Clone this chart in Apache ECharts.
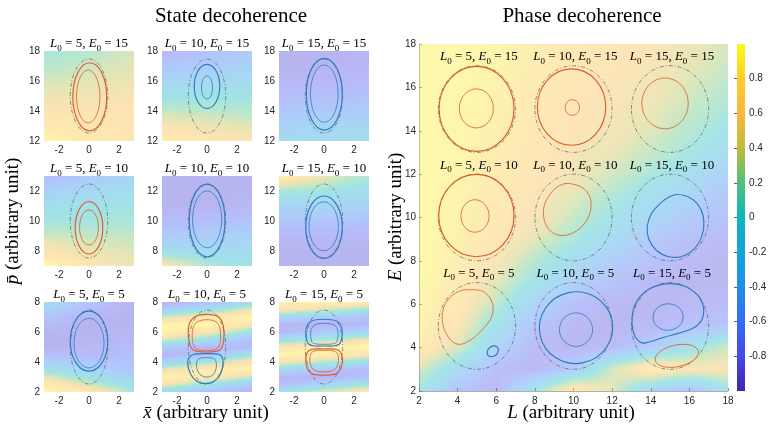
<!DOCTYPE html>
<html>
<head>
<meta charset="utf-8">
<script src="https://cdn.jsdelivr.net/npm/echarts@6/dist/echarts.min.js"></script>
<style>
  html, body { margin: 0; padding: 0; background: #fff; }
  #chart { width: 772px; height: 428px; }
</style>
</head>
<body>
<div id="chart"></div>
<script>
// ---------- State decoherence: 3x3 small panels ----------
var stateL0 = [5, 10, 15];
var stateE0 = [15, 10, 5];
var stateXTicks = [-2, 0, 2];
var stateYTicks = [[12, 14, 16, 18], [8, 10, 12], [2, 4, 6, 8]];
var stateGuide = [1.25, 2.47];   // half axes of the dash-dot ellipse (x, p)

// background field of each panel, rows from top (E0+3) to bottom (E0-3), columns x = -3, 0, 3
var stateField = [
  [[0.05, 0.18, 0.32], [0.18, 0.28, 0.38], [0.32, 0.38, 0.46], [0.46, 0.50, 0.55],
   [0.60, 0.60, 0.62], [0.75, 0.68, 0.66], [0.95, 0.76, 0.70]],
  [[-0.80, -0.68, -0.55], [-0.60, -0.48, -0.38], [-0.35, -0.28, -0.22], [-0.05, -0.05, 0.00],
   [0.25, 0.20, 0.15], [0.55, 0.45, 0.38], [0.80, 0.68, 0.58]],
  [[-0.86, -0.86, -0.82], [-0.86, -0.86, -0.82], [-0.82, -0.80, -0.76], [-0.72, -0.70, -0.66],
   [-0.56, -0.55, -0.50], [-0.40, -0.36, -0.34], [-0.22, -0.20, -0.15]],
  [[-0.75, -0.55, -0.35], [-0.45, -0.30, -0.15], [-0.15, -0.05, 0.00], [0.05, 0.05, 0.10],
   [0.30, 0.25, 0.25], [0.60, 0.45, 0.35], [0.95, 0.65, 0.45]],
  [[-0.86, -0.86, -0.86], [-0.86, -0.86, -0.85], [-0.85, -0.84, -0.80], [-0.75, -0.70, -0.65],
   [-0.55, -0.50, -0.40], [-0.15, -0.25, -0.20], [0.65, 0.15, -0.05]],
  [[0.85, 0.45, 0.10], [0.10, 0.00, -0.15], [-0.35, -0.35, -0.40], [-0.60, -0.60, -0.65],
   [-0.80, -0.80, -0.80], [-0.86, -0.86, -0.86], [-0.86, -0.86, -0.86]],
  [[-0.20, -0.60, -0.85], [-0.40, -0.75, -0.85], [-0.60, -0.85, -0.85], [-0.75, -0.85, -0.85],
   [-0.85, -0.85, -0.80], [-0.85, -0.85, -0.80], [-0.85, -0.80, -0.75], [-0.70, -0.75, -0.70],
   [-0.40, -0.60, -0.65], [-0.10, -0.40, -0.60], [0.40, -0.10, -0.45], [0.80, 0.30, -0.20],
   [0.95, 0.70, 0.10]],
  [[-0.85, -0.70, -0.30], [-0.45, -0.10, 0.50], [0.35, 0.65, 0.95], [0.90, 0.95, 0.60],
   [0.90, 0.60, -0.10], [0.35, -0.10, -0.75], [-0.45, -0.85, -0.75], [-0.85, -0.65, -0.10],
   [-0.45, 0.00, 0.70], [0.35, 0.85, 0.90], [0.90, 0.80, 0.30], [0.60, 0.00, -0.55],
   [-0.20, -0.70, -0.85]],
  [[0.85, 0.90, 0.70], [0.60, 0.30, 0.00], [-0.30, -0.50, -0.70], [-0.80, -0.85, -0.80],
   [-0.80, -0.55, -0.25], [-0.20, 0.10, 0.50], [0.60, 0.85, 0.95], [0.95, 0.85, 0.60],
   [0.60, 0.20, -0.15], [-0.20, -0.55, -0.80], [-0.80, -0.85, -0.70], [-0.75, -0.40, 0.00],
   [-0.10, 0.35, 0.70]]
];

// elliptic contours: [panel, x, p, rx, rp, tiltDeg, sign, level]
var stateContours = [
  [0, 0.05, 14.95, 1.13, 2.27, 0, 1, 1], [0, -0.05, 14.97, 0.78, 1.76, 0, 1, 2],
  [1, 0.00, 15.64, 0.85, 1.47, 0, -1, 1], [1, 0.00, 15.57, 0.37, 0.77, 0, -1, 2],
  [2, 0.02, 15.12, 1.20, 2.39, 0, -1, 1], [2, 0.02, 15.16, 0.92, 1.91, 0, -1, 2],
  [3, 0.00, 9.55, 0.92, 1.75, 0, 1, 1], [3, 0.00, 9.57, 0.63, 1.17, 0, 1, 2],
  [4, 0.01, 10.04, 1.19, 2.42, 0, -1, 1], [4, 0.01, 10.11, 0.97, 1.89, 0, -1, 2],
  [5, 0.00, 9.59, 1.22, 2.08, 0, -1, 1], [5, -0.02, 9.65, 0.98, 1.63, 0, -1, 2],
  [6, 0.00, 5.39, 1.25, 2.00, 0, -1, 1], [6, 0.00, 5.26, 1.00, 1.65, 0, -1, 2]
];
// lobe-shaped contours of the E0 = 5 panels, read point by point
var stateLoops = [
  {panel: 7, sign: 1, level: 1, pts: [[0, 7.18], [0.75, 7.02], [1.08, 6.45], [1.11, 5.40], [0.85, 4.80],
    [0, 4.67], [-0.90, 4.80], [-1.20, 5.40], [-1.20, 6.45], [-0.80, 7.02]]},
  {panel: 7, sign: 1, level: 2, pts: [[0, 6.82], [0.60, 6.68], [0.87, 6.20], [0.88, 5.30], [0.60, 4.85],
    [0, 4.78], [-0.65, 4.85], [-0.95, 5.30], [-0.95, 6.20], [-0.65, 6.68]]},
  {panel: 7, sign: -1, level: 1, pts: [[0, 4.56], [0.80, 4.50], [1.07, 4.10], [0.90, 3.20], [0.45, 2.70],
    [-0.10, 2.56], [-0.65, 2.70], [-1.10, 3.20], [-1.27, 4.10], [-0.90, 4.50]]},
  {panel: 7, sign: -1, level: 2, pts: [[0, 4.29], [0.50, 4.20], [0.63, 3.75], [0.45, 3.20], [0, 2.99],
    [-0.50, 3.20], [-0.71, 3.75], [-0.55, 4.20]]},
  {panel: 8, sign: -1, level: 1, pts: [[0, 6.85], [0.85, 6.72], [1.20, 6.20], [1.10, 5.30], [0.70, 5.08],
    [0, 5.07], [-0.70, 5.08], [-1.10, 5.30], [-1.20, 6.20], [-0.85, 6.72]]},
  {panel: 8, sign: -1, level: 2, pts: [[0, 6.58], [0.65, 6.48], [0.93, 6.05], [0.85, 5.35], [0.50, 5.20],
    [0, 5.18], [-0.50, 5.20], [-0.82, 5.35], [-0.88, 6.05], [-0.60, 6.48]]},
  {panel: 8, sign: 1, level: 1, pts: [[0, 4.87], [0.70, 4.86], [1.10, 4.65], [1.22, 3.90], [0.85, 3.25],
    [0, 3.12], [-0.85, 3.25], [-1.20, 3.90], [-1.10, 4.65], [-0.70, 4.86]]},
  {panel: 8, sign: 1, level: 2, pts: [[0, 4.78], [0.55, 4.76], [0.90, 4.55], [0.95, 3.95], [0.65, 3.45],
    [0, 3.35], [-0.65, 3.45], [-0.93, 3.95], [-0.88, 4.55], [-0.55, 4.76]]}
];

// ---------- Phase decoherence: one large panel ----------
var phaseTicks = [2, 4, 6, 8, 10, 12, 14, 16, 18];
// field rows E = 18 .. 2 (step 1), columns L = 2 .. 18 (step 2)
var phaseField = [
  [0.95, 0.94, 0.90, 0.82, 0.72, 0.66, 0.60, 0.47, 0.34],
  [0.95, 0.94, 0.89, 0.79, 0.69, 0.63, 0.55, 0.41, 0.26],
  [0.95, 0.93, 0.87, 0.76, 0.66, 0.59, 0.50, 0.33, 0.18],
  [0.95, 0.93, 0.85, 0.73, 0.63, 0.55, 0.44, 0.25, 0.08],
  [0.95, 0.92, 0.83, 0.70, 0.60, 0.50, 0.36, 0.15, -0.05],
  [0.95, 0.92, 0.81, 0.67, 0.56, 0.42, 0.25, 0.05, -0.20],
  [0.95, 0.91, 0.78, 0.64, 0.50, 0.30, 0.08, -0.20, -0.45],
  [0.95, 0.90, 0.75, 0.60, 0.40, 0.12, -0.15, -0.40, -0.60],
  [0.95, 0.88, 0.72, 0.55, 0.25, -0.05, -0.35, -0.55, -0.68],
  [0.95, 0.86, 0.66, 0.40, 0.08, -0.28, -0.55, -0.72, -0.80],
  [0.95, 0.83, 0.58, 0.15, -0.22, -0.50, -0.68, -0.80, -0.86],
  [0.94, 0.78, 0.40, -0.05, -0.45, -0.68, -0.82, -0.86, -0.85],
  [0.93, 0.72, 0.20, -0.40, -0.70, -0.85, -0.86, -0.82, -0.78],
  [0.90, 0.60, -0.10, -0.68, -0.85, -0.86, -0.82, -0.72, -0.62],
  [0.80, 0.35, -0.40, -0.78, -0.86, -0.80, -0.55, -0.10, 0.30],
  [0.35, -0.25, -0.75, -0.86, -0.55, 0.30, 0.85, 0.60, 0.55],
  [0.00, -0.70, -0.86, 0.00, 0.80, 0.40, -0.40, -0.70, -0.10]
];
var phaseL0 = [5, 10, 15, 5, 10, 15, 5, 10, 15];
var phaseE0 = [15, 15, 15, 10, 10, 10, 5, 5, 5];
var phaseGuideR = 2;
// elliptic contours: [L, E, rL, rE, tiltDeg, sign, level]
var phaseEllipses = [
  [4.98, 15.01, 1.94, 1.96, 0, 1, 1], [4.97, 15.03, 0.88, 0.90, 0, 1, 2],
  [9.90, 15.09, 1.77, 1.76, 0, 1, 1], [9.94, 15.07, 0.37, 0.36, 0, 1, 2],
  [14.74, 15.26, 1.20, 1.17, 0, 1, 2],
  [4.97, 10.09, 1.95, 1.90, 0, 1, 1], [4.90, 10.07, 0.73, 0.75, 0, 1, 2],
  [5.82, 3.83, 0.32, 0.22, 40, -1, 1],
  [10.13, 4.92, 1.90, 1.65, 12, -1, 1], [10.13, 4.83, 0.86, 0.77, 0, -1, 2],
  [14.90, 5.41, 0.78, 0.61, 5, -1, 2],
  [15.35, 3.62, 1.14, 0.50, 12, 1, 2]
];
// irregular contours read point by point
var phaseLoops = [
  {sign: 1, level: 2, pts: [[9.83, 11.56], [10.45, 11.38], [10.85, 10.95], [10.88, 10.30], [10.55, 9.70],
    [10.00, 9.30], [9.35, 9.17], [8.80, 9.38], [8.48, 9.90], [8.50, 10.60], [8.95, 11.25], [9.40, 11.52]]},
  {sign: -1, level: 1, pts: [[15.37, 11.06], [16.05, 10.90], [16.55, 10.45], [16.75, 9.83], [16.65, 9.15],
    [16.25, 8.55], [15.60, 8.20], [14.90, 8.20], [14.30, 8.48], [13.90, 9.00], [13.82, 9.60],
    [14.05, 10.20], [14.55, 10.70], [14.95, 10.95]]},
  {sign: 1, level: 2, pts: [[4.72, 6.67], [5.30, 6.60], [5.70, 6.25], [5.84, 5.80], [5.70, 5.30],
    [5.30, 4.85], [4.75, 4.40], [4.15, 4.15], [3.70, 4.30], [3.35, 4.75], [3.20, 5.30], [3.30, 5.90],
    [3.65, 6.35], [4.15, 6.62]]},
  {sign: -1, level: 1, pts: [[15.01, 6.95], [15.80, 6.82], [16.40, 6.45], [16.72, 5.90], [16.65, 5.30],
    [16.20, 4.90], [15.50, 4.68], [14.70, 4.48], [14.00, 4.28], [13.55, 4.22], [13.20, 4.50],
    [13.03, 5.10], [13.10, 5.75], [13.45, 6.35], [14.10, 6.78]]}
];
var colorTicks = [-0.8, -0.6, -0.4, -0.2, 0, 0.2, 0.4, 0.6, 0.8];

// parula-like colour map, value -1 .. 1
var cmapStops = [
  [-1.0, [62, 38, 168]], [-0.8, [70, 72, 235]], [-0.6, [52, 108, 246]], [-0.4, [32, 140, 232]],
  [-0.2, [18, 165, 214]], [0.0, [10, 183, 188]], [0.2, [80, 193, 120]], [0.4, [190, 188, 60]],
  [0.6, [250, 183, 60]], [0.8, [252, 205, 45]], [1.0, [249, 251, 20]]
];

function parula(v) {
  if (v <= cmapStops[0][0]) return cmapStops[0][1];
  for (var i = 1; i < cmapStops.length; i++) {
    if (v <= cmapStops[i][0]) {
      var a = cmapStops[i - 1], b = cmapStops[i], t = (v - a[0]) / (b[0] - a[0]);
      return [0, 1, 2].map(function (k) { return Math.round(a[1][k] + (b[1][k] - a[1][k]) * t); });
    }
  }
  return cmapStops[cmapStops.length - 1][1];
}

// raster of a sampled field (rows top->bottom), bilinear between samples
function fieldCanvas(rows, w, h) {
  var cv = document.createElement('canvas');
  cv.width = w; cv.height = h;
  var ctx = cv.getContext('2d');
  var img = ctx.createImageData(w, h);
  var nr = rows.length, nc = rows[0].length;
  for (var py = 0; py < h; py++) {
    var fy = py / (h - 1) * (nr - 1), r0 = Math.min(Math.floor(fy), nr - 2), ty = fy - r0;
    for (var px = 0; px < w; px++) {
      var fx = px / (w - 1) * (nc - 1), c0 = Math.min(Math.floor(fx), nc - 2), tx = fx - c0;
      var top = rows[r0][c0] * (1 - tx) + rows[r0][c0 + 1] * tx;
      var bot = rows[r0 + 1][c0] * (1 - tx) + rows[r0 + 1][c0 + 1] * tx;
      var col = parula(top * (1 - ty) + bot * ty);
      var k = (py * w + px) * 4;
      img.data[k] = col[0]; img.data[k + 1] = col[1]; img.data[k + 2] = col[2]; img.data[k + 3] = 255;
    }
  }
  ctx.putImageData(img, 0, 0);
  return cv;
}

function contourStyle(sign, level) {
  if (sign === 0) return {fill: 'none', stroke: '#555', lineWidth: 0.65, lineDash: [4, 2, 1, 2]};
  return {
    fill: 'none',
    stroke: sign > 0 ? '#db5b2b' : '#2b7bc0',
    lineWidth: level === 1 ? 1.15 : 0.8
  };
}

var serif = 'Liberation Serif';
var sans = 'Liberation Sans';
var labelRich = {
  i: {fontFamily: serif, fontStyle: 'italic', fontSize: 13, lineHeight: 18, verticalAlign: 'middle', fill: '#000', color: '#000'},
  n: {fontFamily: serif, fontSize: 13, lineHeight: 18, verticalAlign: 'middle', fill: '#000', color: '#000'},
  s: {fontFamily: serif, fontSize: 9, lineHeight: 9, verticalAlign: 'bottom', fill: '#000', color: '#000'}
};
function panelLabel(L0, E0) {
  return '{i|L}{s|0}{n| = ' + L0 + ', }{i|E}{s|0}{n| = ' + E0 + '}';
}

function ellipseItem(api, style) {
  var c = api.coord([api.value(0), api.value(1)]);
  var s = api.size([api.value(2) * 2, api.value(3) * 2]);
  return {
    type: 'ellipse', x: c[0], y: c[1], rotation: api.value(4) * Math.PI / 180,
    shape: {cx: 0, cy: 0, rx: s[0] / 2, ry: s[1] / 2},
    style: style
  };
}

// closed smooth curve through the mapped points (Catmull-Rom drawn as cubic segments)
function smoothLoop(pts, style) {
  var n = pts.length, segs = [];
  for (var i = 0; i < n; i++) {
    var p0 = pts[(i - 1 + n) % n], p1 = pts[i], p2 = pts[(i + 1) % n], p3 = pts[(i + 2) % n];
    segs.push({
      type: 'bezierCurve',
      shape: {
        x1: p1[0], y1: p1[1], x2: p2[0], y2: p2[1],
        cpx1: p1[0] + (p2[0] - p0[0]) / 6, cpy1: p1[1] + (p2[1] - p0[1]) / 6,
        cpx2: p2[0] - (p3[0] - p1[0]) / 6, cpy2: p2[1] - (p3[1] - p1[1]) / 6
      },
      style: style
    });
  }
  return {type: 'group', children: segs};
}

function loopSeries(axisIndex, loops) {
  return {
    type: 'custom', xAxisIndex: axisIndex, yAxisIndex: axisIndex, silent: true, z: 3,
    data: loops.map(function (l) { return l.pts[0]; }),
    renderItem: function (params, api) {
      var loop = loops[params.dataIndex];
      var pts = loop.pts.map(function (p) { return api.coord(p); });
      return smoothLoop(pts, contourStyle(loop.sign, loop.level));
    }
  };
}

var chart = echarts.init(document.getElementById('chart'));

var smallLeft = [44, 162, 279], smallTop = [51, 176, 302], smallSize = 90;
var grids = [], xAxes = [], yAxes = [], series = [], graphics = [];
var tickLabel = {fontSize: 10, color: '#262626', fontFamily: sans};

for (var r = 0; r < 3; r++) {
  for (var c = 0; c < 3; c++) {
    (function (r, c) {
      var g = r * 3 + c;
      var yMin = stateE0[r] - 3, yMax = stateE0[r] + 3;
      grids.push({left: smallLeft[c], top: smallTop[r], width: smallSize, height: smallSize, outerBoundsMode: 'none'});
      xAxes.push({
        gridIndex: g, type: 'value', min: -3, max: 3,
        axisLine: {show: false}, axisTick: {show: false}, splitLine: {show: false},
        axisLabel: Object.assign({customValues: stateXTicks, margin: 4}, tickLabel)
      });
      yAxes.push({
        gridIndex: g, type: 'value', min: yMin, max: yMax,
        axisLine: {show: false}, axisTick: {show: false}, splitLine: {show: false},
        axisLabel: Object.assign({customValues: stateYTicks[r], margin: 4}, tickLabel)
      });
      var cv = fieldCanvas(stateField[g], smallSize, smallSize);
      series.push({
        type: 'custom', xAxisIndex: g, yAxisIndex: g, silent: true, z: 1,
        data: [[-3, yMin]],
        renderItem: function (params, api) {
          var p0 = api.coord([-3, yMax]), p1 = api.coord([3, yMin]);
          return {type: 'image', style: {image: cv, x: p0[0], y: p0[1], width: p1[0] - p0[0], height: p1[1] - p0[1], opacity: 0.38}};
        }
      });
      var items = [[0, stateE0[r], stateGuide[0], stateGuide[1], 0, 0, 0]];
      stateContours.forEach(function (d) {
        if (d[0] === g) items.push(d.slice(1));
      });
      series.push({
        type: 'custom', xAxisIndex: g, yAxisIndex: g, silent: true, z: 3,
        data: items,
        renderItem: function (params, api) {
          return ellipseItem(api, contourStyle(api.value(5), api.value(6)));
        }
      });
      var loops = stateLoops.filter(function (l) { return l.panel === g; });
      if (loops.length) series.push(loopSeries(g, loops));
      graphics.push({
        type: 'text', x: smallLeft[c] + smallSize / 2, y: smallTop[r] - 7,
        style: {text: panelLabel(stateL0[c], stateE0[r]), rich: labelRich, align: 'center', verticalAlign: 'middle'}
      });
    })(r, c);
  }
}

// large phase panel (grid 9)
var bigGrid = {left: 419, top: 44, width: 309, height: 347};
grids.push(Object.assign({outerBoundsMode: 'none'}, bigGrid));
var bigAxis = {
  type: 'value', min: 2, max: 18, interval: 2,
  axisLine: {show: true, lineStyle: {color: '#9a9a9a', width: 0.8}},
  axisTick: {show: true, inside: true, length: 3, lineStyle: {color: '#777', width: 0.8}},
  splitLine: {show: false}
};
xAxes.push(Object.assign({gridIndex: 9, axisLabel: Object.assign({customValues: phaseTicks, margin: 5}, tickLabel)}, bigAxis));
yAxes.push(Object.assign({gridIndex: 9, axisLabel: Object.assign({customValues: phaseTicks, margin: 3}, tickLabel)}, bigAxis));
var bigCanvas = fieldCanvas(phaseField, bigGrid.width, bigGrid.height);
series.push({
  type: 'custom', xAxisIndex: 9, yAxisIndex: 9, silent: true, z: 1,
  data: [[2, 2]],
  renderItem: function (params, api) {
    var p0 = api.coord([2, 18]), p1 = api.coord([18, 2]);
    return {type: 'image', style: {image: bigCanvas, x: p0[0], y: p0[1], width: p1[0] - p0[0], height: p1[1] - p0[1], opacity: 0.36}};
  }
});
var guideItems = phaseL0.map(function (L, i) { return [L, phaseE0[i], phaseGuideR, phaseGuideR, 0, 0, 0]; });
series.push({
  type: 'custom', xAxisIndex: 9, yAxisIndex: 9, silent: true, z: 3,
  data: guideItems.concat(phaseEllipses),
  renderItem: function (params, api) {
    return ellipseItem(api, contourStyle(api.value(5), api.value(6)));
  }
});
series.push(loopSeries(9, phaseLoops));
series.push({
  type: 'custom', xAxisIndex: 9, yAxisIndex: 9, silent: true, z: 4,
  data: phaseL0.map(function (L, i) { return [L, phaseE0[i]]; }),
  renderItem: function (params, api) {
    var p = api.coord([api.value(0) + 0.1, api.value(1) + phaseGuideR]);
    return {
      type: 'text', x: p[0], y: p[1] - 9,
      style: {text: panelLabel(api.value(0), api.value(1)), rich: labelRich, align: 'center', verticalAlign: 'middle'}
    };
  }
});

// colour bar (grid 10)
grids.push({left: 737, top: 44, width: 8, height: 347, outerBoundsMode: 'none'});
xAxes.push({gridIndex: 10, type: 'value', min: 0, max: 1, show: false});
yAxes.push({
  gridIndex: 10, type: 'value', min: -1, max: 1, position: 'right',
  axisLine: {show: false}, splitLine: {show: false},
  axisTick: {show: true, inside: true, length: 3, customValues: colorTicks, lineStyle: {color: '#333', width: 0.8}},
  axisLabel: Object.assign({customValues: colorTicks, margin: 4, formatter: function (v) { return String(Math.round(v * 10) / 10); }}, tickLabel)
});
series.push({
  type: 'custom', xAxisIndex: 10, yAxisIndex: 10, silent: true, z: 1,
  data: [[0, -1]],
  renderItem: function (params, api) {
    var p0 = api.coord([0, 1]), p1 = api.coord([1, -1]);
    var stops = cmapStops.map(function (s) {
      return {offset: (s[0] + 1) / 2, color: 'rgb(' + s[1].join(',') + ')'};
    });
    return {
      type: 'rect', shape: {x: p0[0], y: p0[1], width: p1[0] - p0[0], height: p1[1] - p0[1]},
      style: {fill: new echarts.graphic.LinearGradient(0, 1, 0, 0, stops)}
    };
  }
});

// titles and axis names
var bigText = {fontFamily: serif, fontSize: 21, fill: '#000'};
graphics.push({type: 'text', x: 231, y: 16, style: Object.assign({text: 'State decoherence', align: 'center', verticalAlign: 'middle'}, bigText)});
graphics.push({type: 'text', x: 582, y: 16, style: Object.assign({text: 'Phase decoherence', align: 'center', verticalAlign: 'middle'}, bigText)});
var nameRich = {
  i: {fontFamily: serif, fontStyle: 'italic', fontSize: 19, fill: '#000', color: '#000'},
  n: {fontFamily: serif, fontSize: 19, fill: '#000', color: '#000'}
};
graphics.push({type: 'text', x: 206, y: 413, style: {text: '{i|x\u0304}{n| (arbitrary unit)}', rich: nameRich, align: 'center', verticalAlign: 'middle'}});
graphics.push({type: 'text', x: 13, y: 221, rotation: Math.PI / 2, style: {text: '{i|p\u0304}{n| (arbitrary unit)}', rich: nameRich, align: 'center', verticalAlign: 'middle'}});
graphics.push({type: 'text', x: 571, y: 413, style: {text: '{i|L}{n| (arbitrary unit)}', rich: nameRich, align: 'center', verticalAlign: 'middle'}});
graphics.push({type: 'text', x: 396, y: 217, rotation: Math.PI / 2, style: {text: '{i|E}{n| (arbitrary unit)}', rich: nameRich, align: 'center', verticalAlign: 'middle'}});

chart.setOption({
  animation: false,
  backgroundColor: '#fff',
  grid: grids,
  xAxis: xAxes,
  yAxis: yAxes,
  series: series,
  graphic: graphics
});
</script>
</body>
</html>
